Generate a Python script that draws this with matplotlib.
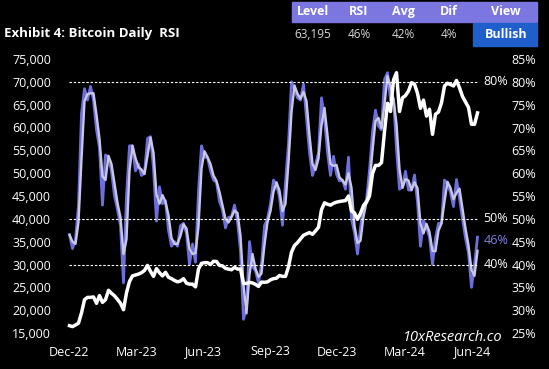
import matplotlib.pyplot as plt
import matplotlib.patches as mpatches
import matplotlib.ticker as mticker
import pandas as pd

plt.rcParams['font.family'] = ['Open Sans', 'DejaVu Sans']

# 数据（每4天一个点，从图中读取）
dates = pd.date_range('2023-01-01', periods=137, freq='4D')

btc_price = [
    16600, 16400, 16750, 17150, 19400, 22300, 22800, 22800, 22900, 21500,
    23200, 21700, 22300, 24350, 23700, 23150, 22350, 21500, 20100, 23800,
    26300, 27500, 27700, 27900, 28200, 28700, 29800, 28500, 27400, 29100,
    28200, 27500, 28300, 27200, 26900, 26500, 26200, 26400, 26900, 25900,
    25700, 25700, 25100, 29000, 30250, 30400, 30400, 30000, 30700, 30650,
    29800, 29700, 29150, 29000, 28850, 29350, 29000, 29000, 25850, 25850,
    26100, 25950, 25650, 25200, 26150, 26100, 26200, 26650, 26900, 27000,
    27600, 27400, 27400, 29500, 32700, 34150, 34800, 35600, 36400, 36700,
    37000, 36600, 37350, 38150, 42000, 43500, 43200, 43000, 43400, 43650,
    43800, 43900, 44000, 45000, 41700, 41300, 39900, 41200, 42900, 43650,
    45000, 49900, 51700, 51700, 52300, 59100, 65300, 63500, 70400, 72000,
    63500, 66500, 67000, 68000, 69800, 69500, 67500, 64200, 66000, 62500,
    64000, 58500, 62900, 63400, 65400, 69100, 69700, 69400, 69100, 70300,
    68700, 66800, 65600, 64400, 60700, 60700, 63195,
]

rsi = [
    46.5, 43.5, 45.5, 53, 73, 78.5, 76, 79, 76, 69.5,
    65.5, 53, 64, 63.5, 60.5, 55, 52, 48.5, 36, 55,
    66, 66, 60.5, 62, 59.5, 60, 67.6, 68, 61, 49.5,
    57, 53.3, 54, 47.5, 44, 45, 44, 48.5, 49, 46.8,
    40, 44.5, 40.5, 56, 66, 63.5, 63.5, 60.5, 58.5, 58,
    53.8, 52, 48, 50.3, 50.5, 53, 49.5, 43, 28, 30.6,
    45, 39.6, 38.6, 36, 40, 48.5, 50, 53.3, 58.5, 57.5,
    54.8, 48.6, 58, 66.5, 80, 78.3, 76.5, 76, 79.5, 72,
    64.5, 59.5, 61.8, 64.5, 76.5, 72, 64.5, 59.5, 63.7, 59.8,
    58.3, 58.5, 56.5, 63.5, 50, 47, 42.3, 48, 53, 54.2,
    60.7, 69, 73.8, 70.3, 69.5, 80.5, 82, 76, 76.3, 65.3,
    56.5, 57, 60.4, 56.3, 56.3, 59.6, 53.7, 44, 49.6, 48.2,
    46, 40, 45.8, 49, 49, 58.5, 57.7, 55.8, 52.7, 58.6,
    54.5, 50, 45.8, 42.5, 35, 40, 46,
]

rsi_avg = [
    46.5, 45.0, 44.5, 49.3, 63.0, 75.8, 77.3, 77.5, 77.5, 72.8,
    67.5, 59.3, 58.5, 63.8, 62.0, 57.8, 53.5, 50.3, 42.3, 45.5,
    60.5, 66.0, 63.3, 61.3, 60.8, 59.8, 63.8, 67.8, 64.5, 55.3,
    53.3, 55.2, 53.7, 50.8, 45.8, 44.5, 44.5, 46.3, 48.8, 47.9,
    43.4, 42.3, 42.5, 48.3, 61.0, 64.8, 63.5, 62.0, 59.5, 58.3,
    55.9, 52.9, 50.0, 49.2, 50.4, 51.8, 51.3, 46.3, 35.5, 29.3,
    37.8, 42.3, 39.1, 37.3, 38.0, 44.3, 49.3, 51.7, 55.9, 58.0,
    56.2, 51.7, 53.3, 62.3, 73.3, 79.2, 77.4, 76.3, 77.8, 75.8,
    68.3, 62.0, 60.7, 63.2, 70.5, 74.3, 68.3, 62.0, 61.6, 61.8,
    59.1, 58.4, 57.5, 60.0, 56.8, 48.5, 44.7, 45.2, 50.5, 53.6,
    57.5, 64.9, 71.4, 72.1, 69.9, 75.0, 81.3, 79.0, 76.2, 70.8,
    60.9, 56.8, 58.7, 58.4, 56.3, 58.0, 56.7, 48.9, 46.8, 48.9,
    47.1, 43.0, 42.9, 47.4, 49.0, 53.8, 58.1, 56.8, 54.3, 55.7,
    56.6, 52.3, 47.9, 44.2, 38.8, 37.5, 43.0,
]

rsi_levels = [80, 50, 40]
tick_dates = ['2023-01-01', '2023-03-31', '2023-06-28', '2023-09-26',
              '2023-12-24', '2024-03-23', '2024-06-20']
tick_labels = ['Dec-22', 'Mar-23', 'Jun-23', 'Sep-23', 'Dec-23', 'Mar-24', 'Jun-24']

table_cols = ['Level', 'RSI', 'Avg', 'Dif', 'View']
table_vals = ['63,195', '46%', '42%', '4%', 'Bullish']

RSI_COLOR = '#6E6EDC'
AVG_COLOR = '#C8C8E4'
HEAD_COLOR = '#7B76E0'
VIEW_COLOR = '#1F5FCC'

W, H = 549, 369
fig = plt.figure(figsize=(W / 100, H / 100), dpi=100, facecolor='black')
ax = fig.add_axes([62 / W, 1 - 333 / H, 444 / W, 274 / H])
ax2 = ax.twinx()
ax.set_zorder(ax2.get_zorder() + 1)
ax.patch.set_visible(False)

# RSI 与均线
ax2.plot(dates, rsi, color=RSI_COLOR, linewidth=2.0, solid_joinstyle='round')
ax2.plot(dates, rsi_avg, color=AVG_COLOR, linewidth=1.7, solid_joinstyle='round')
ax2.hlines(rsi_levels, dates[0], dates[-1], colors='white',
           linestyles=(0, (2.2, 1.6)), linewidth=0.8)

# 价格
ax.plot(dates, btc_price, color='white', linewidth=2.5, solid_joinstyle='round')

ax.set_xlim(pd.Timestamp('2022-12-22'), pd.Timestamp('2024-08-05'))
ax.set_ylim(15000, 75000)
ax2.set_ylim(25, 85)
ax.set_yticks(range(15000, 75001, 5000))
ax.yaxis.set_major_formatter(mticker.FuncFormatter(lambda v, p: f'{v:,.0f}'))
ax2.set_yticks(range(25, 86, 5))
ax2.yaxis.set_major_formatter(mticker.FuncFormatter(lambda v, p: f'{v:.0f}%'))
ax.set_xticks(pd.to_datetime(tick_dates))
ax.set_xticklabels(tick_labels)

for a in (ax, ax2):
    for s in a.spines.values():
        s.set_visible(False)
    a.tick_params(colors='white', labelcolor='white', length=0, labelsize=9)
ax.tick_params(axis='y', pad=8)
ax.tick_params(axis='x', pad=9)
ax2.tick_params(axis='y', pad=4)

# 虚线右侧标注
for lvl in rsi_levels:
    ax2.text(dates[-1] + pd.Timedelta(days=8), lvl, f'{lvl}%', color='white',
             fontsize=9, va='center', ha='left')
ax2.text(dates[-1] + pd.Timedelta(days=8), 45.2, f'{rsi[-1]:.0f}%', color='#8080E0',
         fontsize=9, va='center', ha='left')

ax.text(0.993, -0.015, '10xResearch.co', transform=ax.transAxes, color='white',
        fontsize=10.5, style='italic', ha='right', va='center')

# 标题与表格
fig.text(4 / W, 1 - 34 / H, 'Exhibit 4: Bitcoin Daily  RSI', color='white',
         fontsize=9.5, fontweight='bold', va='center', ha='left')
fig.patches.append(mpatches.Rectangle((292 / W, 1 - 22 / H), 245 / W, 20 / H,
                                      transform=fig.transFigure, color=HEAD_COLOR))
fig.patches.append(mpatches.Rectangle((473 / W, 1 - 46 / H), 64 / W, 23 / H,
                                      transform=fig.transFigure, color=VIEW_COLOR))
col_x = [313, 359, 403, 449, 506]
for cx, name, val in zip(col_x, table_cols, table_vals):
    fig.text(cx / W, 1 - 11.5 / H, name, color='white', fontsize=9,
             fontweight='bold', ha='center', va='center')
    bold = val == 'Bullish'
    fig.text(cx / W, 1 - 34 / H, val, color='white' if bold else '#D8D8D8',
             fontsize=9 if bold else 8.5, fontweight='bold' if bold else 'normal',
             ha='center', va='center')

fig.savefig('out.png', dpi=100, facecolor='black')
